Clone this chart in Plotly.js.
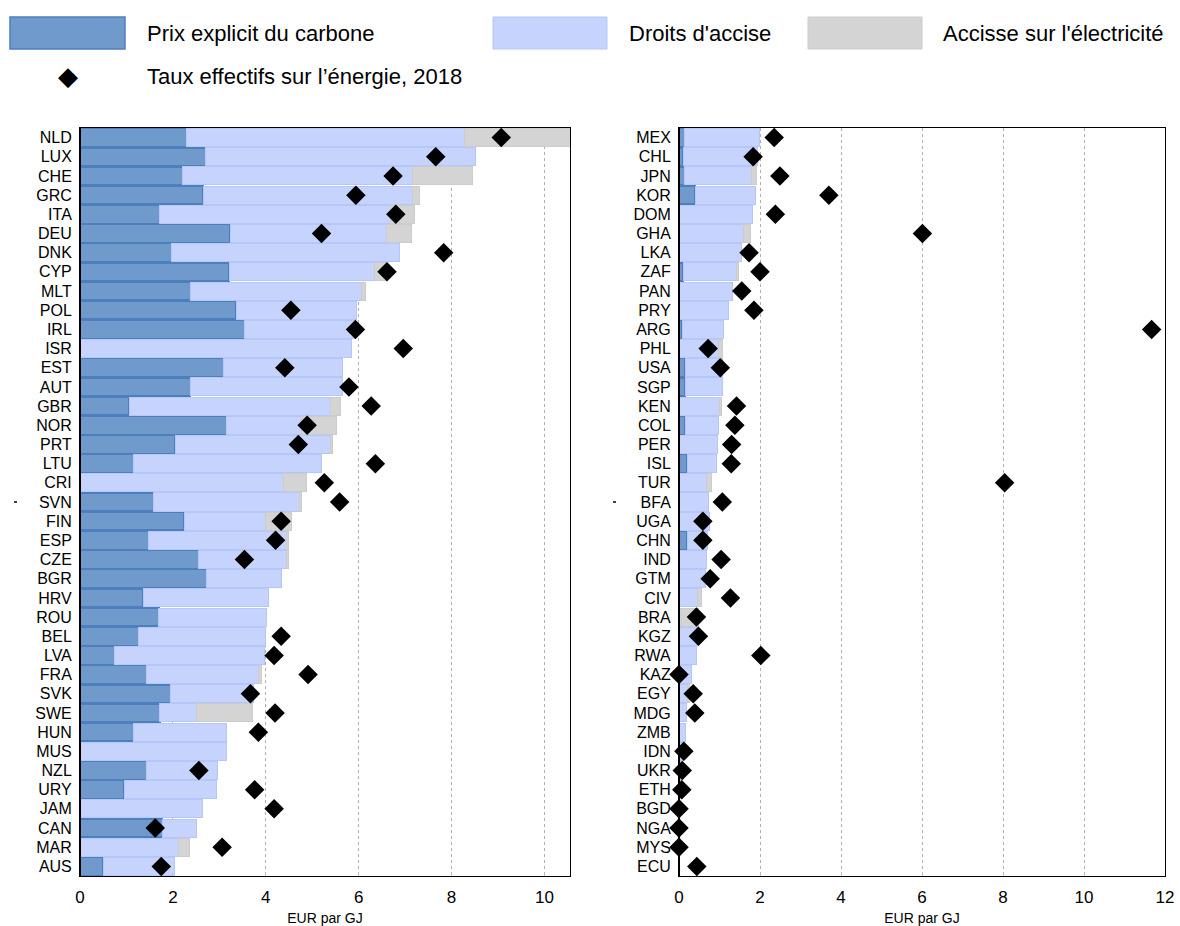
<!DOCTYPE html>
<html>
<head>
<meta charset="utf-8">
<script src="https://cdn.plot.ly/plotly-3.0.1.min.js"></script>
<style>html,body{margin:0;padding:0;background:#fff;}#chart{width:1180px;height:926px;}</style>
</head>
<body>
<div id="chart"></div>
<script>
// ---- Left panel data ----
const leftCountries = ["NLD","LUX","CHE","GRC","ITA","DEU","DNK","CYP","MLT","POL","IRL","ISR","EST","AUT","GBR","NOR","PRT","LTU","CRI","SVN","FIN","ESP","CZE","BGR","HRV","ROU","BEL","LVA","FRA","SVK","SWE","HUN","MUS","NZL","URY","JAM","CAN","MAR","AUS"];
const leftCarbon = [2.29,2.70,2.21,2.65,1.72,3.23,1.98,3.21,2.38,3.36,3.55,0,3.09,2.38,1.06,3.16,2.05,1.16,0,1.59,2.24,1.47,2.56,2.73,1.36,1.70,1.26,0.74,1.43,1.95,1.72,1.16,0,1.44,0.95,0,1.78,0,0.50];
const leftExcise = [5.99,5.81,4.95,4.51,4.96,3.36,4.89,3.13,3.67,2.59,2.39,5.85,2.56,3.27,4.34,1.61,3.35,4.03,4.39,3.13,1.75,2.97,1.88,1.61,2.70,2.32,2.74,3.24,2.42,1.79,0.79,2.00,3.15,1.53,1.98,2.63,0.72,2.13,1.53];
const leftElec = [2.32,0,1.28,0.14,0.52,0.54,0,0.26,0.10,0,0,0,0,0,0.21,0.75,0.03,0,0.49,0.05,0.57,0.05,0.05,0,0,0,0,0,0.05,0,1.21,0,0,0,0,0,0,0.22,0];
const leftEffective = [9.07,7.66,6.74,5.94,6.80,5.20,7.83,6.61,null,4.54,5.93,6.96,4.41,5.79,6.27,4.89,4.70,6.36,5.26,5.59,4.33,4.21,3.54,null,null,null,4.33,4.18,4.91,3.67,4.20,3.84,null,2.56,3.76,4.18,1.62,3.06,1.75];

// ---- Right panel data ----
const rightCountries = ["MEX","CHL","JPN","KOR","DOM","GHA","LKA","ZAF","PAN","PRY","ARG","PHL","USA","SGP","KEN","COL","PER","ISL","TUR","BFA","UGA","CHN","IND","GTM","CIV","BRA","KGZ","RWA","KAZ","EGY","MDG","ZMB","IDN","UKR","ETH","BGD","NGA","MYS","ECU"];
const rightCarbon = [0.14,0.10,0.13,0.40,0,0,0,0.10,0,0,0.08,0,0.15,0.15,0,0.15,0,0.20,0,0,0,0.20,0,0,0,0,0,0,0,0,0,0,0,0,0,0,0,0,0];
const rightExcise = [1.84,1.84,1.65,1.48,1.82,1.59,1.55,1.33,1.31,1.21,1.02,0.98,0.92,0.92,0.99,0.82,0.94,0.73,0.68,0.74,0.75,0.51,0.68,0.66,0.45,0.06,0.48,0.43,0.31,0.22,0.19,0.16,0.12,0.06,0.05,0.02,0.01,0.01,0.01];
const rightElec = [0,0,0.14,0,0,0.18,0,0.04,0,0,0,0.09,0,0,0.05,0,0,0,0.12,0,0,0,0,0,0.10,0.42,0,0,0,0.05,0,0,0,0,0,0,0,0,0];
const rightEffective = [2.35,1.83,2.49,3.70,2.38,6.01,1.73,2.00,1.55,1.85,11.67,0.72,1.02,null,1.42,1.38,1.30,1.29,8.04,1.07,0.59,0.59,1.04,0.77,1.27,0.43,0.48,2.02,0.0,0.35,0.39,null,0.12,0.08,0.07,0.0,0.0,0.0,0.44];

const seriesNames = ["Prix explicit du carbone","Droits d'accise","Accisse sur l'électricité","Taux effectifs sur l’énergie, 2018"];
const xTickVals = [0,2,4,6,8,10,12];

const C_CARBON = "#7099cc", C_CARBON_LINE = "#4d7fbd";
const C_EXC = "#c6d4fd", C_EXC_LINE = "#b4c6fa";
const C_ELEC = "#d4d4d4", C_ELEC_LINE = "#cccccc";

function nz(a){ return a.map(v => v === 0 ? null : v); }

function panel(cats, carbon, excise, elec, eff, xa, ya){
  return [
    {type:"bar", orientation:"h", y:cats, x:nz(carbon), xaxis:xa, yaxis:ya, name:seriesNames[0], showlegend:false,
     marker:{color:C_CARBON, line:{color:C_CARBON_LINE, width:1.5}}},
    {type:"bar", orientation:"h", y:cats, x:nz(excise), xaxis:xa, yaxis:ya, name:seriesNames[1], showlegend:false,
     marker:{color:C_EXC, line:{color:C_EXC_LINE, width:1}}},
    {type:"bar", orientation:"h", y:cats, x:nz(elec), xaxis:xa, yaxis:ya, name:seriesNames[2], showlegend:false,
     marker:{color:C_ELEC, line:{color:C_ELEC_LINE, width:1}}},
    {type:"scatter", mode:"markers", y:cats, x:eff, xaxis:xa, yaxis:ya, name:seriesNames[3], showlegend:false,
     marker:{symbol:"diamond", color:"#000", size:15}, cliponaxis:false}
  ];
}

const data = [].concat(
  panel(leftCountries, leftCarbon, leftExcise, leftElec, leftEffective, "x", "y"),
  panel(rightCountries, rightCarbon, rightExcise, rightElec, rightEffective, "x2", "y2")
);

const W = 1180, H = 926;
const yTop = 128, yBot = 876;
const yDom = [(H - yBot)/H, (H - yTop)/H];

const tickFont = {family:"Liberation Sans Narrow, Arial Narrow, Liberation Sans, sans-serif", size:17, color:"#000"};
const catFont = {family:"Liberation Sans Narrow, Arial Narrow, Liberation Sans, sans-serif", size:16, color:"#000"};

function xaxis(dom, range, anchor){
  return {domain:dom, range:range, anchor:anchor, tickvals:xTickVals, tickfont:tickFont,
    showgrid:true, gridcolor:"#b0b0b0", griddash:"dot", gridwidth:1,
    zeroline:false, showline:true, linecolor:"#000", linewidth:1, mirror:true,
    ticks:"inside", ticklen:3, tickcolor:"#c0c0c0", ticklabelstandoff:6,
    title:{text:"EUR par GJ", font:{family:"Liberation Sans, Arial, sans-serif", size:14, color:"#000"}, standoff:6},
    fixedrange:true};
}
function yaxis(anchor, n){
  return {domain:yDom, anchor:anchor, range:[n - 0.5, -0.5], type:"category", tickfont:catFont,
    tickmode:"linear", dtick:1, tick0:0,
    showgrid:false, zeroline:false, showline:true, linecolor:"#000", linewidth:1, mirror:true,
    ticks:"", ticklabelstandoff:4, fixedrange:true};
}

const legendFont = {family:"Liberation Sans Narrow, Arial Narrow, Liberation Sans, sans-serif", size:22, color:"#000"};
const shapes = [
  {type:"rect", xref:"paper", yref:"paper", x0:10/W, x1:125/W, y0:1-49/H, y1:1-17/H, fillcolor:C_CARBON, line:{color:C_CARBON_LINE, width:1.5}},
  {type:"rect", xref:"paper", yref:"paper", x0:493/W, x1:607/W, y0:1-49/H, y1:1-17/H, fillcolor:C_EXC, line:{color:C_EXC_LINE, width:1}},
  {type:"rect", xref:"paper", yref:"paper", x0:808/W, x1:922/W, y0:1-49/H, y1:1-17/H, fillcolor:C_ELEC, line:{color:C_ELEC_LINE, width:1}},
  // thicker left axis lines
  {type:"line", xref:"paper", yref:"paper", x0:80/W, x1:80/W, y0:yDom[0], y1:yDom[1], line:{color:"#000", width:2}},
  {type:"line", xref:"paper", yref:"paper", x0:679/W, x1:679/W, y0:yDom[0], y1:yDom[1], line:{color:"#000", width:2}},
  // small stray marks beside the category axes
  {type:"line", xref:"paper", yref:"paper", x0:14/W, x1:17/W, y0:1-502/H, y1:1-502/H, line:{color:"#000", width:1.5}},
  {type:"line", xref:"paper", yref:"paper", x0:613/W, x1:616/W, y0:1-502/H, y1:1-502/H, line:{color:"#000", width:1.5}}
];
const annotations = [
  {xref:"paper", yref:"paper", x:145/W, y:1-33/H, text:seriesNames[0], showarrow:false, xanchor:"left", yanchor:"middle", font:legendFont},
  {xref:"paper", yref:"paper", x:627/W, y:1-33/H, text:seriesNames[1], showarrow:false, xanchor:"left", yanchor:"middle", font:legendFont},
  {xref:"paper", yref:"paper", x:941/W, y:1-33/H, text:seriesNames[2], showarrow:false, xanchor:"left", yanchor:"middle", font:legendFont},
  {xref:"paper", yref:"paper", x:145/W, y:1-76/H, text:seriesNames[3], showarrow:false, xanchor:"left", yanchor:"middle", font:legendFont},
  {xref:"paper", yref:"paper", x:68/W, y:1-76/H, text:"◆", showarrow:false, xanchor:"center", yanchor:"middle", font:{family:"DejaVu Sans", size:26, color:"#000"}}
];

const layout = {
  width:W, height:H, autosize:false,
  margin:{l:0, r:0, t:0, b:0},
  paper_bgcolor:"#fff", plot_bgcolor:"#fff",
  barmode:"stack", bargap:0.06,
  showlegend:false,
  xaxis: xaxis([80/W, 570/W], [0, 10.55], "y"),
  yaxis: yaxis("x", leftCountries.length),
  xaxis2: xaxis([679/W, 1165/W], [0, 12], "y2"),
  yaxis2: yaxis("x2", rightCountries.length),
  shapes: shapes,
  annotations: annotations
};

Plotly.newPlot("chart", data, layout, {displayModeBar:false, staticPlot:true});
</script>
</body>
</html>
